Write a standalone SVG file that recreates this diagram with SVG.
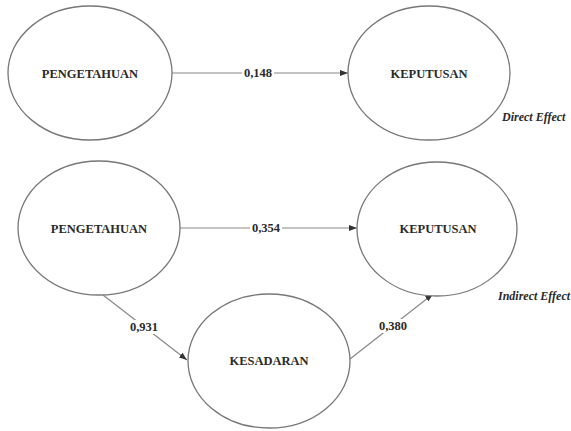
<svg xmlns="http://www.w3.org/2000/svg" width="571" height="431" viewBox="0 0 571 431">
  <defs>
    <marker id="arr" markerUnits="userSpaceOnUse" markerWidth="8" markerHeight="6" refX="8" refY="3" orient="auto">
      <path d="M0,0 L8,3 L0,6 z" fill="#333"/>
    </marker>
  </defs>
  <style>
    .node ellipse { fill: #fff; stroke: #777; stroke-width: 1.3; }
    .node text { font-family: "Liberation Serif", "Times New Roman", serif; font-weight: bold; font-size: 12.5px; fill: #2a2a2a; text-anchor: middle; }
    .edge { stroke: #888; stroke-width: 1.2; fill: none; marker-end: url(#arr); }
    .lbl { font-family: "Liberation Serif", "Times New Roman", serif; font-weight: bold; font-size: 12.5px; fill: #2a2a2a; text-anchor: middle; }
    .lblbg { fill: #fff; }
    .note { font-family: "Liberation Serif", "Times New Roman", serif; font-weight: bold; font-style: italic; font-size: 12px; fill: #2a2a2a; }
  </style>
  <rect width="571" height="431" fill="#fff"/>

  <g id="connectors">
    <line class="edge" x1="172" y1="73" x2="348" y2="73"/>
    <line class="edge" x1="180" y1="228" x2="357" y2="228"/>
    <line class="edge" x1="103" y1="295" x2="187" y2="360"/>
    <line class="edge" x1="350" y1="359" x2="433" y2="294"/>
    <rect class="lblbg" x="242" y="66" width="32" height="14"/>
    <text class="lbl" x="258" y="77">0,148</text>
    <rect class="lblbg" x="250" y="221" width="32" height="14"/>
    <text class="lbl" x="266" y="232">0,354</text>
    <rect class="lblbg" x="128" y="320" width="32" height="14"/>
    <text class="lbl" x="144" y="331">0,931</text>
    <rect class="lblbg" x="377" y="319" width="32" height="14"/>
    <text class="lbl" x="393" y="330">0,380</text>
  </g>

  <g id="pengetahuan-direct" class="node">
    <ellipse cx="90" cy="73" rx="82" ry="67"/>
    <text x="90" y="78">PENGETAHUAN</text>
  </g>
  <g id="keputusan-direct" class="node">
    <ellipse cx="429" cy="73" rx="81" ry="67"/>
    <text x="429" y="78">KEPUTUSAN</text>
  </g>
  <g id="pengetahuan-indirect" class="node">
    <ellipse cx="99" cy="228" rx="81" ry="67"/>
    <text x="99" y="233">PENGETAHUAN</text>
  </g>
  <g id="keputusan-indirect" class="node">
    <ellipse cx="437" cy="229" rx="80" ry="67"/>
    <text x="438" y="233">KEPUTUSAN</text>
  </g>
  <g id="kesadaran" class="node">
    <ellipse cx="269" cy="361" rx="81" ry="67"/>
    <text x="269" y="365">KESADARAN</text>
  </g>

  <text class="note" x="502" y="121">Direct Effect</text>
  <text class="note" x="498" y="300">Indirect Effect</text>
</svg>
